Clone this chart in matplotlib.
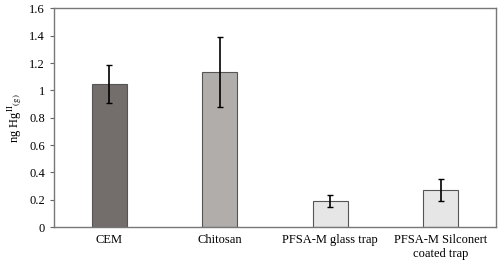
import matplotlib
matplotlib.use('Agg')
from matplotlib import pyplot as plt

categorias = ['CEM', 'Chitosan', 'PFSA-M glass trap', 'PFSA-M Silconert\ncoated trap']
valores = [1.05, 1.135, 0.19, 0.27]
erros = [0.14, 0.255, 0.045, 0.08]
cores = ['#736e6c', '#b1adab', '#e6e6e6', '#e6e6e6']

plt.rcParams['font.family'] = ['Liberation Serif', 'DejaVu Serif']
plt.rcParams['mathtext.fontset'] = 'stix'

fig = plt.figure(figsize=(5, 2.65), dpi=100)
ax = fig.add_axes([0.108, 0.143, 0.884, 0.825])

x = range(len(categorias))
ax.bar(x, valores, width=0.32, color=cores, edgecolor='#555555', linewidth=0.8,
       yerr=erros, error_kw=dict(ecolor='black', elinewidth=1.2, capsize=2, capthick=1))

ax.set_xlim(-0.5, 3.5)
ax.set_ylim(0, 1.6)
ax.set_yticks([0, 0.2, 0.4, 0.6, 0.8, 1.0, 1.2, 1.4, 1.6])
ax.set_yticklabels(['0', '0.2', '0.4', '0.6', '0.8', '1', '1.2', '1.4', '1.6'])
ax.set_xticks(list(x))
ax.set_xticklabels(categorias, fontsize=9)
ax.tick_params(axis='x', length=0, pad=5)
ax.tick_params(axis='y', labelsize=9, length=3, width=0.8, color='#666666')
ax.set_ylabel(r'ng Hg$^{\mathrm{II}}$$_{\mathrm{(g)}}$', fontsize=9)

for s in ax.spines.values():
    s.set_color('#777777')
    s.set_linewidth(1)

fig.savefig('out.png', dpi=100)
